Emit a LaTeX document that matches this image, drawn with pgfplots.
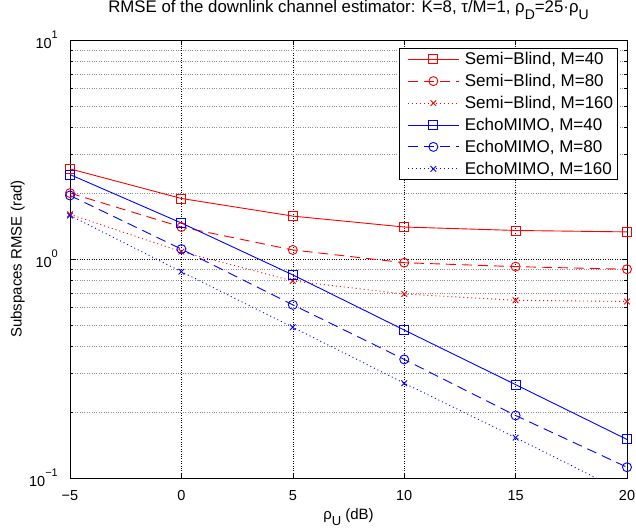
\documentclass[border=0pt]{standalone}
\usepackage{fontspec}
\setmainfont{Liberation Sans}
\usepackage{pgfplots}
\pgfplotsset{compat=1.18}
% MATLAB-like super/subscripts (\textsuperscript is a fixed 7pt)
\newcommand{\sups}[1]{\raisebox{0.66em}{\fontsize{11}{12}\selectfont #1}}
\newcommand{\subs}[2][13]{\raisebox{-0.45em}{\fontsize{#1}{#1}\selectfont #2}}

\begin{document}
\begin{tikzpicture}
\begin{axis}[
    width=557pt, height=438pt,
    scale only axis,
    ymode=log,
    xmin=-5, xmax=20,
    ymin=0.1, ymax=10,
    xtick={-5,0,5,10,15,20},
    xticklabels={−5,0,5,10,15,20},
    ytick={0.1,1,10},
    yticklabels={10\sups{−1},10\sups{0},10\sups{1}},
    tick align=inside,
    major tick length=5pt,
    minor tick length=3pt,
    tick style={black, line width=0.5pt},
    axis line style={black, line width=0.9pt},
    grid=both,
    major grid style={black, dotted, line width=0.5pt},
    minor grid style={black!45, dotted, line width=0.5pt},
    ticklabel style={font=\fontsize{14.5}{16}\selectfont, inner sep=0pt},
    xticklabel style={anchor=north, yshift=-12pt},
    yticklabel style={anchor=east, xshift=-12pt},
    xlabel={ρ\subs{U} (dB)},
    ylabel={Subspaces RMSE (rad)},
    label style={font=\fontsize{15}{17}\selectfont, inner sep=0pt},
    xlabel style={at={(axis description cs:0.5,0)}, anchor=north, yshift=-30pt},
    ylabel style={at={(axis description cs:0,0.5)}, anchor=south, yshift=45pt},
    title={RMSE of the downlink channel estimator: K=8, τ/M=1, ρ\subs[14]{D}=25·ρ\subs[14]{U}},
    title style={font=\fontsize{16.8}{18}\selectfont, inner sep=0pt,
        at={(axis description cs:0.5,1)}, anchor=base, yshift=22pt},
    legend cell align=left,
    legend style={at={(0.9838,0.9817)}, anchor=north east,
        draw=black, line width=0.6pt, inner xsep=2.5pt,
        nodes={inner xsep=2pt},
        font=\fontsize{17}{19}\selectfont, row sep=4.1pt},
    legend image code/.code={
        \path (0pt,0pt) (60pt,0pt);
        \draw[mark repeat=2, mark phase=2] plot coordinates {(5.5pt,0pt) (31pt,0pt) (56.5pt,0pt)};
    },
    every axis plot/.append style={line width=0.9pt},
]
\addplot[red, mark=square, mark size=4.5pt, mark options={solid}] coordinates {
    (-5,2.58) (0,1.89) (5,1.57) (10,1.40) (15,1.35) (20,1.33)
};
\addlegendentry{Semi−Blind, M=40}
\addplot[red, dash pattern=on 10pt off 6pt, mark=o, mark size=4.5pt, mark options={solid}] coordinates {
    (-5,2.00) (0,1.40) (5,1.10) (10,0.962) (15,0.923) (20,0.898)
};
\addlegendentry{Semi−Blind, M=80}
\addplot[red, dash pattern=on 1pt off 3pt, mark=x, mark size=4pt, mark options={solid}] coordinates {
    (-5,1.60) (0,1.08) (5,0.794) (10,0.692) (15,0.648) (20,0.640)
};
\addlegendentry{Semi−Blind, M=160}
\addplot[blue, mark=square, mark size=4.5pt, mark options={solid}] coordinates {
    (-5,2.43) (0,1.46) (5,0.846) (10,0.474) (15,0.267) (20,0.150)
};
\addlegendentry{EchoMIMO, M=40}
\addplot[blue, dash pattern=on 10pt off 6pt, mark=o, mark size=4.5pt, mark options={solid}] coordinates {
    (-5,1.95) (0,1.11) (5,0.618) (10,0.348) (15,0.193) (20,0.112)
};
\addlegendentry{EchoMIMO, M=80}
\addplot[blue, dash pattern=on 1pt off 3pt, mark=x, mark size=4pt, mark options={solid}] coordinates {
    (-5,1.58) (0,0.875) (5,0.488) (10,0.271) (15,0.153) (20,0.085)
};
\addlegendentry{EchoMIMO, M=160}
\end{axis}
% fix the page to the reference's margins round the axis box
\pgfresetboundingbox
\path[use as bounding box] (current axis.south west) ++(-70pt,-53pt) rectangle ++(636pt,531pt);
\end{tikzpicture}
\end{document}
